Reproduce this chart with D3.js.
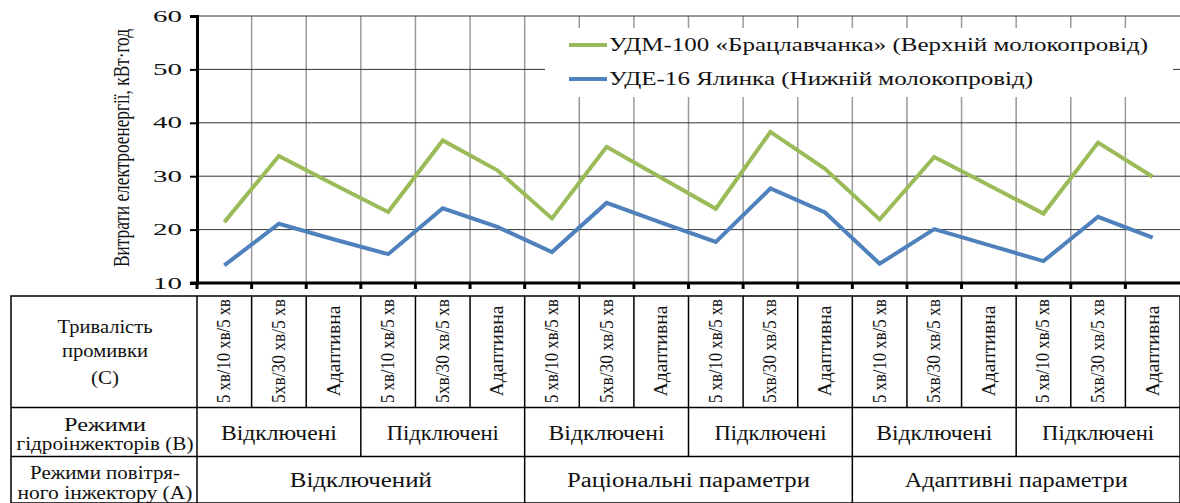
<!DOCTYPE html>
<html>
<head>
<meta charset="utf-8">
<script src="https://cdn.jsdelivr.net/npm/d3@7"></script>
<style>
  body { margin: 0; background: #fff; }
  svg { display: block; }
  svg text { font-family: "Liberation Serif", "Times New Roman", Tinos, Times, "DejaVu Serif", "Noto Serif", serif; }
</style>
</head>
<body>
<svg></svg>
<script>
// Chart data
const flushModes = ["5 хв/10 хв/5 хв", "5хв/30 хв/5 хв", "Адаптивна",
                    "5 хв/10 хв/5 хв", "5хв/30 хв/5 хв", "Адаптивна",
                    "5 хв/10 хв/5 хв", "5хв/30 хв/5 хв", "Адаптивна",
                    "5 хв/10 хв/5 хв", "5хв/30 хв/5 хв", "Адаптивна",
                    "5 хв/10 хв/5 хв", "5хв/30 хв/5 хв", "Адаптивна",
                    "5 хв/10 хв/5 хв", "5хв/30 хв/5 хв", "Адаптивна"];
const hydroModes = ["Відключені", "Підключені", "Відключені", "Підключені", "Відключені", "Підключені"];
const airModes = ["Відключений", "Раціональні параметри", "Адаптивні параметри"];
const seriesNames = ["УДМ-100 «Брацлавчанка» (Верхній молокопровід)", "УДЕ-16 Ялинка (Нижній молокопровід)"];
const udmValues = [21.4, 33.8, 28.5, 23.3, 36.7, 31.1, 22.1, 35.5, 29.7, 23.9, 38.3, 31.4, 21.9, 33.6, 28.3, 23.0, 36.3, 29.9];
const udeValues = [13.3, 21.1, 18.2, 15.4, 24.0, 20.5, 15.8, 25.0, 21.3, 17.7, 27.7, 23.2, 13.6, 20.1, 17.1, 14.1, 22.4, 18.5];
const yTicks = [10, 20, 30, 40, 50, 60];
const colors = ["#9bbb59", "#4f81bd"];

const width = 1180, height = 503;
const svg = d3.select("svg").attr("width", width).attr("height", height);

const plotLeft = 197, plotRight = 1180, plotTop = 16, plotBottom = 283;

const idx = d3.range(flushModes.length);
const x = d3.scaleBand().domain(idx).range([plotLeft, plotRight]).padding(0);
const y = d3.scaleLinear().domain([10, 60]).range([plotBottom, plotTop]);
const bw = x.bandwidth();

// vertical gridlines (grey)
svg.append("g").selectAll("line")
  .data(idx.slice(1))
  .join("line")
  .attr("x1", d => x(d)).attr("x2", d => x(d))
  .attr("y1", plotTop).attr("y2", plotBottom)
  .attr("stroke", "#999").attr("stroke-width", 1.5);

// horizontal gridlines
svg.append("g").selectAll("line")
  .data(yTicks.slice(1))
  .join("line")
  .attr("x1", plotLeft).attr("x2", plotRight)
  .attr("y1", d => y(d)).attr("y2", d => y(d))
  .attr("stroke", "#333").attr("stroke-width", 1);

// legend background
svg.append("rect")
  .attr("x", 545).attr("y", 28).attr("width", 628).attr("height", 69)
  .attr("fill", "#fff");

// lines
const line = d3.line().x((d, i) => x(i) + bw / 2).y(d => y(d));
[udmValues, udeValues].forEach((vals, k) => {
  svg.append("path")
    .datum(vals)
    .attr("d", line)
    .attr("fill", "none")
    .attr("stroke", colors[k])
    .attr("stroke-width", 4)
    .attr("stroke-linejoin", "miter");
});

// y axis
const yAxis = svg.append("g")
  .attr("transform", `translate(${plotLeft},0)`)
  .call(d3.axisLeft(y).tickValues(yTicks).tickSize(7).tickPadding(8));
yAxis.select(".domain").attr("stroke", "#000").attr("stroke-width", 3);
yAxis.selectAll(".tick line").attr("stroke", "#000").attr("stroke-width", 2);
yAxis.selectAll(".tick text")
  .attr("font-size", 16).attr("fill", "#111")
  .attr("textLength", 29).attr("lengthAdjust", "spacingAndGlyphs");

// x axis
const xAxis = svg.append("g")
  .attr("transform", `translate(0,${plotBottom})`);
xAxis.append("line")
  .attr("x1", plotLeft - 7).attr("x2", plotRight)
  .attr("stroke", "#000").attr("stroke-width", 3);
xAxis.selectAll("line.tk")
  .data(idx)
  .join("line").attr("class", "tk")
  .attr("x1", d => x(d)).attr("x2", d => x(d))
  .attr("y1", 0).attr("y2", 6)
  .attr("stroke", "#000").attr("stroke-width", 3);

// y title (stretched sideways like the original)
svg.append("text")
  .attr("transform", "translate(129,148) scale(1.4,1) rotate(-90)")
  .attr("text-anchor", "middle")
  .attr("font-size", 17)
  .attr("textLength", 238).attr("lengthAdjust", "spacingAndGlyphs")
  .attr("fill", "#111")
  .text("Витрати електроенергії, кВт·год");

// legend
const legLens = [539, 424];
seriesNames.forEach((name, k) => {
  const ly = 45 + k * 34;
  svg.append("line")
    .attr("x1", 569).attr("x2", 607).attr("y1", ly).attr("y2", ly)
    .attr("stroke", colors[k]).attr("stroke-width", 4);
  svg.append("text")
    .attr("x", 609).attr("y", ly + 6)
    .attr("font-size", 18)
    .attr("textLength", legLens[k]).attr("lengthAdjust", "spacingAndGlyphs")
    .attr("fill", "#111")
    .text(name);
});

// table below the chart
const tTop = 296, r1 = 407.5, r2 = 456.5, tBot = 503, tLeft = 11;
const tbl = svg.append("g").attr("stroke", "#000").attr("stroke-width", 1.5);
tbl.append("rect")
  .attr("x", tLeft).attr("y", tTop)
  .attr("width", plotRight - tLeft).attr("height", tBot - tTop)
  .attr("fill", "none");
[r1, r2].forEach(yy => tbl.append("line").attr("x1", tLeft).attr("x2", plotRight).attr("y1", yy).attr("y2", yy));
tbl.append("line").attr("x1", plotLeft).attr("x2", plotLeft).attr("y1", tTop).attr("y2", tBot);
// row 1 dividers
tbl.selectAll("line.c1").data(idx.slice(1)).join("line").attr("class", "c1")
  .attr("x1", d => x(d)).attr("x2", d => x(d)).attr("y1", tTop).attr("y2", r1);
// row 2 dividers
tbl.selectAll("line.c2").data(d3.range(1, hydroModes.length)).join("line").attr("class", "c2")
  .attr("x1", d => x(d * 3)).attr("x2", d => x(d * 3)).attr("y1", r1).attr("y2", r2);
// row 3 dividers
tbl.selectAll("line.c3").data(d3.range(1, airModes.length)).join("line").attr("class", "c3")
  .attr("x1", d => x(d * 6)).attr("x2", d => x(d * 6)).attr("y1", r2).attr("y2", tBot);

// row headers: [text, baseline, width]
const headerLines = [
  ["Тривалість", 333, 95], ["промивки", 357, 86], ["(С)", 384, 28],
  ["Режими", 431, 82], ["гідроінжекторів (В)", 450, 177],
  ["Режими повітря-", 479, 150], ["ного інжектору (А)", 499, 175]
];
const hx = (tLeft + plotLeft) / 2 + 1;
svg.append("g").selectAll("text")
  .data(headerLines)
  .join("text")
  .attr("x", hx).attr("y", d => d[1])
  .attr("text-anchor", "middle")
  .attr("font-size", 18)
  .attr("fill", "#111")
  .attr("textLength", d => d[2]).attr("lengthAdjust", "spacingAndGlyphs")
  .text(d => d[0]);

// rotated flushing-mode labels
svg.append("g").selectAll("text")
  .data(flushModes)
  .join("text")
  .attr("transform", (d, i) => `translate(${x(i) + bw / 2 + 6},351) scale(1.15,1) rotate(-90)`)
  .attr("text-anchor", "middle")
  .attr("font-size", 17)
  .attr("fill", "#111")
  .attr("textLength", d => d === "Адаптивна" ? 91 : 104)
  .attr("lengthAdjust", "spacingAndGlyphs")
  .text(d => d);

// hydro-injector modes
svg.append("g").selectAll("text")
  .data(hydroModes)
  .join("text")
  .attr("x", (d, i) => x(i * 3) + bw * 1.5)
  .attr("y", 439.5)
  .attr("text-anchor", "middle")
  .attr("font-size", 20)
  .attr("textLength", d => d === "Відключені" ? 116 : 112)
  .attr("lengthAdjust", "spacingAndGlyphs")
  .attr("fill", "#111")
  .text(d => d);

// air-injector modes
const airLens = [142, 243, 223];
svg.append("g").selectAll("text")
  .data(airModes)
  .join("text")
  .attr("x", (d, i) => x(i * 6) + bw * 3)
  .attr("y", 487)
  .attr("text-anchor", "middle")
  .attr("font-size", 20)
  .attr("textLength", (d, i) => airLens[i])
  .attr("lengthAdjust", "spacingAndGlyphs")
  .attr("fill", "#111")
  .text(d => d);
</script>
</body>
</html>
